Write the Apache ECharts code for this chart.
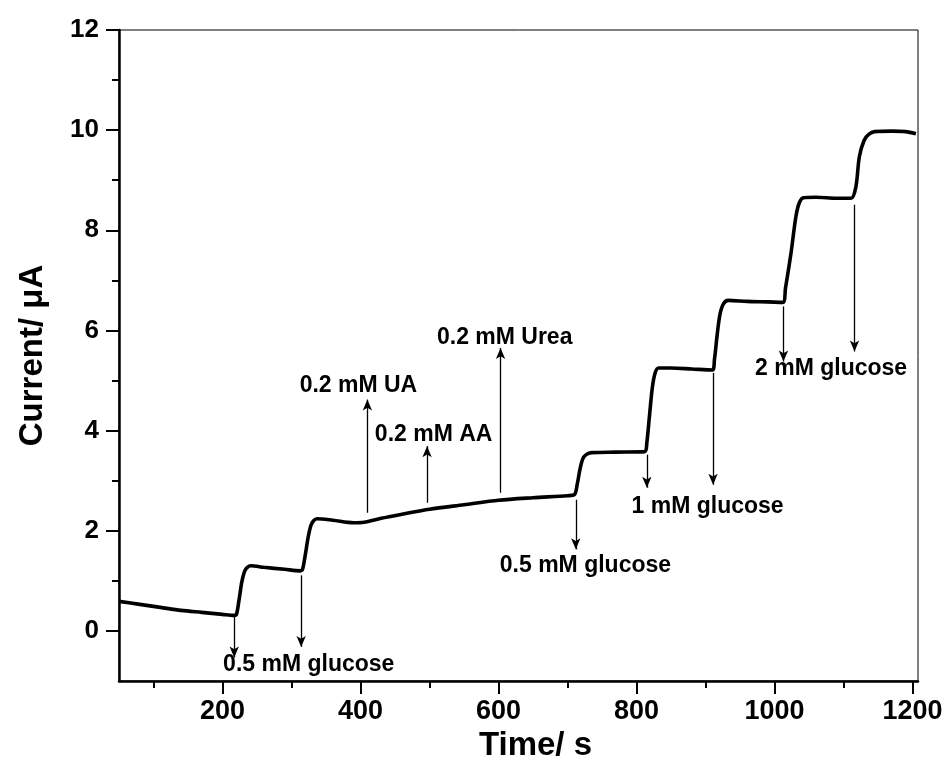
<!DOCTYPE html>
<html>
<head>
<meta charset="utf-8">
<script src="https://cdn.jsdelivr.net/npm/echarts@6/dist/echarts.min.js"></script>
<style>
html,body{margin:0;padding:0;background:#fff;}
#chart{width:946px;height:765px;}
</style>
</head>
<body>
<div id="chart"></div>
<script>
// Amperometric response data (Time / s, Current / µA)
const times = [50, 80, 110, 140, 170, 200, 217, 220, 224, 228, 232, 236, 241, 260, 290, 313, 316, 320, 324, 328, 332, 337, 360, 390, 405, 430, 460, 500, 550, 600, 650, 700, 710, 714, 718, 722, 727, 735, 770, 812, 815, 819, 823, 827, 832, 850, 880, 910, 913, 917, 921, 926, 933, 960, 990, 1012, 1016, 1024, 1031, 1036, 1042, 1060, 1090, 1111, 1118, 1123, 1130, 1137, 1145, 1170, 1190, 1205];
const currents = [0.59, 0.53, 0.47, 0.41, 0.37, 0.33, 0.31, 0.32, 0.62, 0.98, 1.19, 1.27, 1.30, 1.27, 1.23, 1.20, 1.23, 1.52, 1.86, 2.10, 2.20, 2.24, 2.21, 2.16, 2.17, 2.25, 2.33, 2.43, 2.52, 2.61, 2.66, 2.70, 2.72, 2.92, 3.22, 3.43, 3.52, 3.56, 3.57, 3.58, 3.76, 4.32, 4.86, 5.15, 5.25, 5.25, 5.23, 5.21, 5.42, 5.92, 6.32, 6.53, 6.60, 6.58, 6.57, 6.56, 6.85, 7.55, 8.27, 8.55, 8.65, 8.66, 8.64, 8.64, 8.87, 9.47, 9.80, 9.92, 9.97, 9.98, 9.97, 9.93];

// Injection arrows: x position, start current, arrow-tip current
const arrowX    = [217, 314, 410, 496.5, 603, 712, 815, 911, 1013, 1116];
const arrowFrom = [0.29, 1.11, 2.36, 2.56, 2.76, 2.62, 3.52, 5.15, 6.48, 8.51];
const arrowTo   = [-0.53, -0.32, 4.62, 3.69, 5.65, 1.63, 2.86, 2.92, 5.38, 5.58];

// Annotation texts and their centres (data coordinates)
const noteText = ['0.5 mM glucose', '0.2 mM UA', '0.2 mM AA', '0.2 mM Urea', '0.5 mM glucose', '1 mM glucose', '2 mM glucose'];
const noteX    = [325, 397, 506, 609, 726, 903, 1082];
const noteY    = [-0.67, 4.9, 3.92, 5.85, 1.31, 2.48, 5.23];

// Tick values
const xTicks = [200, 400, 600, 800, 1000, 1200];
const xMinor = [100, 300, 500, 700, 900, 1100];
const yTicks = [0, 2, 4, 6, 8, 10, 12];
const yMinor = [1, 3, 5, 7, 9, 11];
const xMin = 50, xMax = 1208, yMin = -1, yMax = 12;

const FONT = '"Liberation Sans", Arial, Helvetica, sans-serif';

const chart = echarts.init(document.getElementById('chart'), null, {renderer: 'canvas'});

const lineData = times.map((t, i) => [t, currents[i]]);
const arrowData = arrowX.map((x, i) => [{coord: [x, arrowFrom[i]]}, {coord: [x, arrowTo[i]]}]);
const noteData = noteText.map((t, i) => ({value: [noteX[i], noteY[i]], name: t}));

const baseX = {
  type: 'value', min: xMin, max: xMax, position: 'bottom',
  splitLine: {show: false}
};
const baseY = {
  type: 'value', min: yMin, max: yMax, position: 'left',
  splitLine: {show: false}
};

const option = {
  backgroundColor: '#fff',
  animation: false,
  grid: {left: 119, right: 28, top: 30, bottom: 84, show: true, borderColor: '#000', borderWidth: 1,
         backgroundColor: 'transparent', outerBoundsMode: 'none', containLabel: false},
  xAxis: [
    Object.assign({}, baseX, {
      name: 'Time/ s', nameLocation: 'middle', nameGap: 46,
      nameTextStyle: {fontFamily: FONT, fontWeight: 'bold', fontSize: 33, color: '#000', padding: [0, 0, 0, 34]},
      axisLine: {show: true, onZero: false, lineStyle: {color: '#000', width: 2.5}},
      axisTick: {show: true, inside: false, length: 13, customValues: xTicks, lineStyle: {color: '#000', width: 2}},
      axisLabel: {show: true, margin: 17, customValues: xTicks, formatter: v => String(v),
                  fontFamily: FONT, fontWeight: 'bold', fontSize: 27, color: '#000'}
    }),
    Object.assign({}, baseX, {
      axisLine: {show: false, onZero: false},
      axisTick: {show: true, inside: false, length: 7, customValues: xMinor, lineStyle: {color: '#000', width: 2}},
      axisLabel: {show: false}
    })
  ],
  yAxis: [
    Object.assign({}, baseY, {
      name: 'Current/ \u03BCA', nameLocation: 'middle', nameGap: 70,
      nameTextStyle: {fontFamily: FONT, fontWeight: 'bold', fontSize: 33, color: '#000'},
      axisLine: {show: true, onZero: false, lineStyle: {color: '#000', width: 2.5}},
      axisTick: {show: true, inside: false, length: 13, customValues: yTicks, lineStyle: {color: '#000', width: 2}},
      axisLabel: {show: true, margin: 20, customValues: yTicks, formatter: v => String(v),
                  fontFamily: FONT, fontWeight: 'bold', fontSize: 26, color: '#000'}
    }),
    Object.assign({}, baseY, {
      axisLine: {show: false, onZero: false},
      axisTick: {show: true, inside: false, length: 7, customValues: yMinor, lineStyle: {color: '#000', width: 2}},
      axisLabel: {show: false}
    })
  ],
  series: [
    {
      type: 'line', xAxisIndex: 0, yAxisIndex: 0,
      data: lineData, showSymbol: false, symbol: 'none', smooth: 0.3,
      lineStyle: {color: '#000', width: 3.6},
      z: 3,
      markLine: {
        silent: true, animation: false,
        symbol: ['none', 'arrow'], symbolSize: [7, 11],
        lineStyle: {color: '#000', width: 1.3, type: 'solid'},
        label: {show: false},
        data: arrowData
      }
    },
    {
      type: 'scatter', xAxisIndex: 0, yAxisIndex: 0,
      data: noteData, symbolSize: 0, silent: true,
      itemStyle: {opacity: 1, color: '#000'},
      label: {
        show: true, position: 'inside', formatter: p => p.name, opacity: 1,
        fontFamily: FONT, fontWeight: 'bold', fontSize: 23, color: '#000'
      },
      z: 5
    }
  ]
};
chart.setOption(option);
</script>
</body>
</html>
